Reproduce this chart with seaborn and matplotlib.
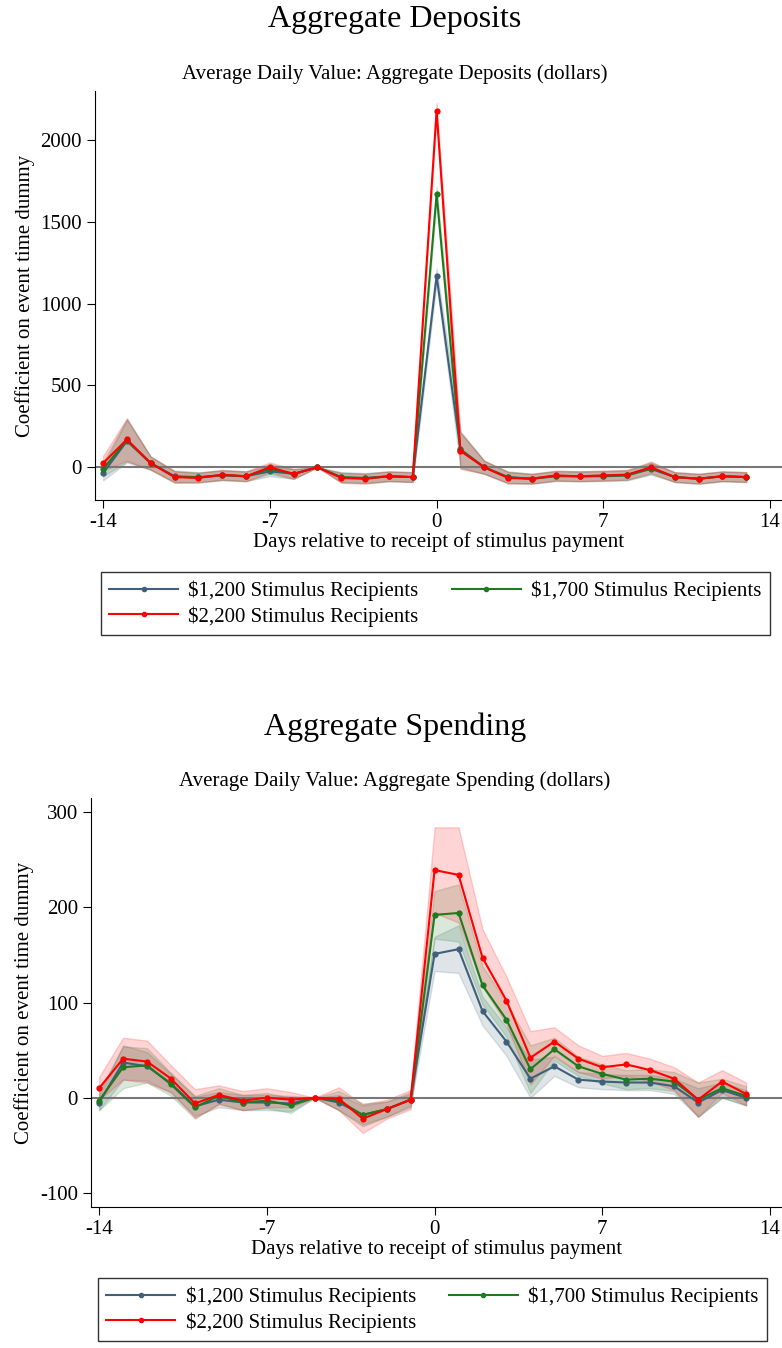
import pandas as pd
import seaborn as sns
import matplotlib.pyplot as plt
import numpy as np

days = list(range(-14, 14))
series = ['$1,200 Stimulus Recipients', '$1,700 Stimulus Recipients', '$2,200 Stimulus Recipients']
colors = ['#3f5f7a', '#1f7a1f', '#ff0000']

dep_1200 = [-35, 160, 25, -55, -60, -50, -55, -25, -40, 0, -60, -65, -55, -60, 1170, 110, 0, -60, -70, -55, -55, -55, -50, -10, -60, -70, -55, -60]
dep_1700 = [-10, 165, 25, -58, -62, -48, -55, -10, -42, 0, -62, -68, -55, -60, 1670, 105, 0, -62, -70, -52, -55, -52, -48, -5, -60, -70, -55, -60]
dep_2200 = [25, 170, 25, -60, -65, -45, -55, 0, -40, 0, -65, -70, -55, -60, 2180, 100, 0, -65, -70, -50, -55, -50, -45, 0, -60, -70, -55, -60]
dep_ci = [45, 130, 40, 35, 30, 30, 30, 30, 30, 0, 30, 30, 30, 30, 45, 110, 40, 35, 30, 30, 30, 30, 30, 35, 30, 30, 30, 30]

sp_1200 = [-5, 37, 33, 15, -9, -2, -5, -5, -6, 0, -5, -18, -12, -2, 151, 156, 91, 59, 20, 33, 19, 17, 16, 16, 12, -5, 8, 0]
sp_1700 = [-3, 32, 34, 14, -10, 2, -5, -3, -8, 0, -3, -18, -12, -2, 192, 194, 118, 82, 30, 51, 33, 25, 19, 20, 17, -2, 10, 2]
sp_2200 = [10, 41, 38, 20, -6, 3, -3, 0, -2, 0, -1, -22, -12, -2, 239, 234, 147, 102, 42, 59, 41, 32, 35, 29, 20, -2, 17, 4]
sp_ci_1200 = [8, 18, 15, 10, 10, 8, 8, 8, 8, 0, 8, 10, 8, 6, 18, 25, 15, 15, 20, 10, 8, 8, 8, 8, 8, 15, 8, 8]
sp_ci_1700 = [10, 22, 18, 12, 12, 8, 8, 8, 8, 0, 10, 12, 8, 8, 25, 30, 20, 18, 25, 12, 10, 10, 10, 10, 10, 18, 10, 10]
sp_ci_2200 = [12, 22, 22, 14, 15, 10, 10, 10, 8, 0, 12, 15, 10, 10, 45, 50, 30, 25, 28, 15, 14, 12, 12, 12, 12, 18, 12, 12]

plt.rcParams['font.family'] = ['Liberation Serif', 'DejaVu Serif']
plt.rcParams['mathtext.default'] = 'regular'
plt.rcParams['axes.unicode_minus'] = False

fig = plt.figure(figsize=(7.82, 13.48), dpi=100)
W, H = 782, 1348


def panel(box, title, title_y, sub, vals, cis, ylim, yticks, leg_box):
    l, t, r, b = box
    ax = fig.add_axes([l / W, 1 - b / H, (r - l) / W, (b - t) / H])
    rows = []
    for name, v in zip(series, vals):
        for d, y in zip(days, v):
            rows.append({'day': d, 'value': y, 'group': name})
    df = pd.DataFrame(rows)
    for name, v, ci, c in zip(series, vals, cis, colors):
        v = np.array(v)
        ci = np.array(ci)
        ax.fill_between(days, v - ci, v + ci, color=c, alpha=0.17, lw=1, edgecolor=c)
    ax.axhline(0, color='#777777', lw=1.5, zorder=1)
    sns.lineplot(data=df, x='day', y='value', hue='group', palette=colors, marker='o',
                 markersize=4.5, markeredgewidth=0, lw=1.5, ax=ax, legend=False, zorder=3)
    ax.set_xlim(-14.34, 14.5)
    ax.set_ylim(*ylim)
    ax.set_xticks([-14, -7, 0, 7, 14])
    ax.set_yticks(yticks)
    ax.tick_params(labelsize=15, length=6)
    for s in ['top', 'right']:
        ax.spines[s].set_visible(False)
    ax.set_xlabel('Days relative to receipt of stimulus payment', fontsize=15, labelpad=0)
    ax.set_ylabel('Coefficient on event time dummy', fontsize=15)
    fig.text(395 / W, 1 - (t - 17) / H, sub, ha='center', va='center', fontsize=15)
    fig.text(395 / W, 1 - title_y / H, title, ha='center', va='center', fontsize=23)
    handles = [plt.Line2D([], [], color=c, marker='o', markersize=3, lw=1.5) for c in colors]
    order = [0, 2, 1]
    ll, lt, lr, lb = leg_box
    fig.legend([handles[i] for i in order], [series[i] for i in order], loc='upper left',
               bbox_to_anchor=(ll / W, 1 - lt / H), ncol=2,
               fontsize=15, frameon=True, fancybox=False, edgecolor='black', handlelength=3.3,
               handletextpad=0.5, columnspacing=1.6, borderpad=0.4, labelspacing=0.25, borderaxespad=0)


panel((95, 91, 782, 500), 'Aggregate Deposits', 20, 'Average Daily Value: Aggregate Deposits (dollars)',
      [dep_1200, dep_1700, dep_2200], [dep_ci, dep_ci, dep_ci], (-200, 2300), [0, 500, 1000, 1500, 2000],
      (101, 572, 775, 642))
panel((91, 798, 782, 1207), 'Aggregate Spending', 727, 'Average Daily Value: Aggregate Spending (dollars)',
      [sp_1200, sp_1700, sp_2200], [sp_ci_1200, sp_ci_1700, sp_ci_2200], (-114.7, 314.7), [-100, 0, 100, 200, 300],
      (98, 1278, 775, 1348))

fig.savefig('out.png', dpi=100)
